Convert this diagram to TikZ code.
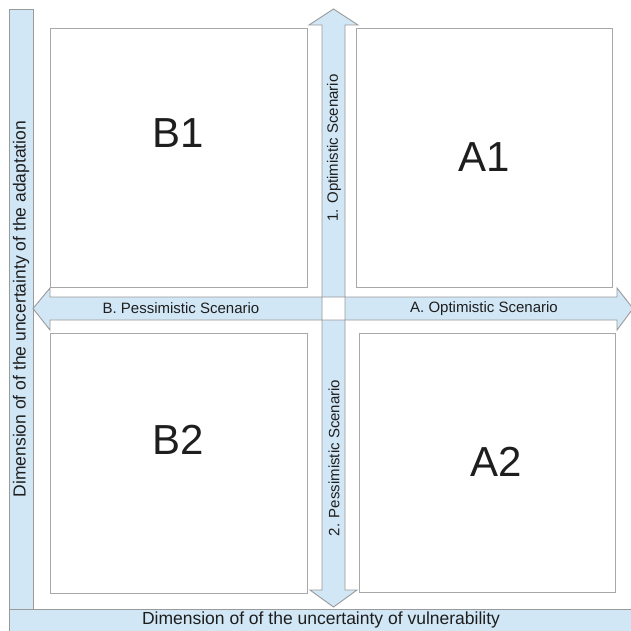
\documentclass[tikz,border=0pt]{standalone}
\usepackage{fontspec}
\setmainfont{Liberation Sans}
\definecolor{barfill}{HTML}{D2E7F6}
\definecolor{edge}{HTML}{9A9A9A}
\definecolor{boxedge}{HTML}{A8A8A8}
\definecolor{ink}{HTML}{1E1E1E}
\begin{document}
\begin{tikzpicture}[x=1pt,y=-1pt,
  quad/.style={draw=boxedge,line width=1.3pt,fill=white,inner sep=0pt,anchor=north west},
  bigtxt/.style={font=\fontsize{42}{42}\selectfont,text=ink},
  lbl/.style={font=\fontsize{15}{15}\selectfont,text=ink,inner sep=0pt},
  axlbl/.style={font=\fontsize{17.5}{17.5}\selectfont,text=ink,inner sep=0pt},
  arrowshape/.style={draw=edge,line width=0.9pt,fill=barfill,line join=miter},
  bar/.style={draw=edge,line width=0.9pt,fill=barfill}]
\useasboundingbox (0,0) rectangle (630,631);
\fill[white] (0,0) rectangle (630,631);
% bars
\draw[bar] (9,9) rectangle (33,609);
\draw[bar] (9,609) rectangle (640,640);
% quadrant boxes
\node[quad,minimum width=257pt,minimum height=259pt] (B1) at (50,28) {};
\node[quad,minimum width=256pt,minimum height=259pt] (A1) at (356,28) {};
\node[quad,minimum width=257pt,minimum height=260pt] (B2) at (50,333) {};
\node[quad,minimum width=256pt,minimum height=259pt] (A2) at (359,333) {};
% arrows
\draw[arrowshape] (322,297) -- (322,25) -- (309,25) -- (333.5,9) -- (358,25) -- (345,25) -- (345,297) -- cycle;
\draw[arrowshape] (322,320) -- (322,590) -- (310,590) -- (333.5,607) -- (357,590) -- (345,590) -- (345,320) -- cycle;
\draw[arrowshape] (322,297) -- (50,297) -- (50,288) -- (33,308.5) -- (50,330) -- (50,320) -- (322,320) -- cycle;
\draw[arrowshape] (345,297) -- (617,297) -- (617,288) -- (633,308.5) -- (617,330) -- (617,320) -- (345,320) -- cycle;
% big labels
\node[bigtxt] (tB1) at (178,133) {B1};
\node[bigtxt] (tA1) at (484,157) {A1};
\node[bigtxt] (tB2) at (178,440) {B2};
\node[bigtxt] (tA2) at (496,462) {A2};
% arrow labels
\node[lbl,rotate=90] (up) at (334,148) {1. Optimistic Scenario};
\node[lbl,rotate=90] (down) at (334,458) {2. Pessimistic Scenario};
\node[lbl] (left) at (181,308.5) {B. Pessimistic Scenario};
\node[lbl] (right) at (484,308.5) {A. Optimistic Scenario};
% axis labels
\node[axlbl,rotate=90] (yaxis) at (21,309) {Dimension of of the uncertainty of the adaptation};
\node[axlbl] (xaxis) at (321,620) {Dimension of of the uncertainty of vulnerability};
\end{tikzpicture}
\end{document}
